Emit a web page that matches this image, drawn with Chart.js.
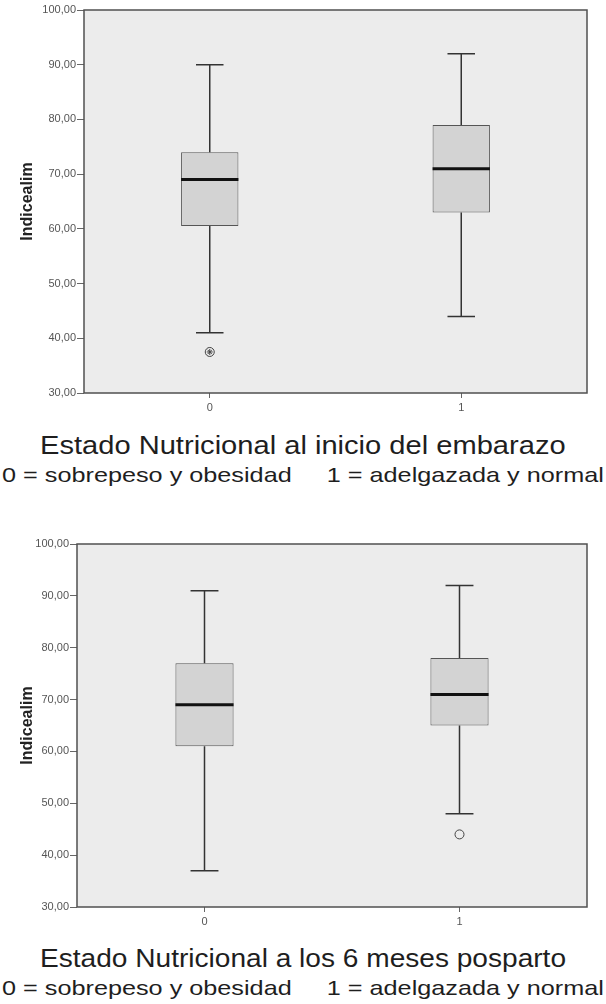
<!DOCTYPE html>
<html>
<head>
<meta charset="utf-8">
<script src="https://cdn.jsdelivr.net/npm/chart.js@4.4.0/dist/chart.umd.min.js"></script>
<style>
  body { margin: 0; background: #fff; width: 606px; height: 1004px; position: relative; overflow: hidden; font-family: "Liberation Sans", Arial, sans-serif; }
  canvas { position: absolute; left: 0; }
  .txt { position: absolute; white-space: pre; color: #1e1e1e; transform-origin: 0 50%; }
</style>
</head>
<body>
<canvas id="grafico1" width="606" height="420" style="top:0px"></canvas>
<canvas id="grafico2" width="606" height="420" style="top:520px"></canvas>

<div class="txt" data-left="40" data-width="526" style="top:430px;font-size:26px;line-height:30px">Estado Nutricional al inicio del embarazo</div>
<div class="txt" data-left="2" data-width="602" style="top:462px;font-size:21px;line-height:25px">0 = sobrepeso y obesidad     1 = adelgazada y normal</div>
<div class="txt" data-left="40" data-width="526" style="top:943px;font-size:26px;line-height:30px">Estado Nutricional a los 6 meses posparto</div>
<div class="txt" data-left="2" data-width="602" style="top:975px;font-size:21px;line-height:25px">0 = sobrepeso y obesidad     1 = adelgazada y normal</div>

<script>
const categorias = ['0', '1'];
const yTickLabels = ['30,00', '40,00', '50,00', '60,00', '70,00', '80,00', '90,00', '100,00'];

// inicio del embarazo
const inicioMin = [41, 44];
const inicioQ1 = [60.5, 63];
const inicioMediana = [69, 71];
const inicioQ3 = [74, 79];
const inicioMax = [90, 92];
const inicioAtipicos = [37.5, null];
const inicioExtremos = [37.5, null];

// 6 meses posparto
const posMin = [37, 48];
const posQ1 = [61, 65];
const posMediana = [69, 71];
const posQ3 = [77, 78];
const posMax = [91, 92];
const posAtipicos = [null, 44];
const posExtremos = [null, null];

const cajas = {
  id: 'cajas',
  beforeDraw(chart) {
    const a = chart.chartArea;
    const ctx = chart.ctx;
    ctx.save();
    ctx.fillStyle = '#ececec';
    ctx.fillRect(a.left, a.top, a.right - a.left, a.bottom - a.top);
    ctx.restore();
  },
  afterDatasetsDraw(chart, args, opts) {
    const ctx = chart.ctx;
    const y = chart.scales.y;
    const meta = chart.getDatasetMeta(0);
    ctx.save();
    meta.data.forEach(function(bar, i) {
      const x = bar.x;
      const w = bar.width;
      const yMax = y.getPixelForValue(opts.max[i]);
      const yMin = y.getPixelForValue(opts.min[i]);
      const yQ1 = y.getPixelForValue(opts.q1[i]);
      const yQ3 = y.getPixelForValue(opts.q3[i]);
      const yMed = y.getPixelForValue(opts.med[i]);
      ctx.strokeStyle = '#333';
      ctx.lineWidth = 1.5;
      ctx.beginPath();
      ctx.moveTo(x, yQ3); ctx.lineTo(x, yMax);
      ctx.moveTo(x - w * 0.24, yMax); ctx.lineTo(x + w * 0.24, yMax);
      ctx.moveTo(x, yQ1); ctx.lineTo(x, yMin);
      ctx.moveTo(x - w * 0.24, yMin); ctx.lineTo(x + w * 0.24, yMin);
      ctx.stroke();
      ctx.strokeStyle = '#111';
      ctx.lineWidth = 3;
      ctx.beginPath();
      ctx.moveTo(x - w / 2, yMed); ctx.lineTo(x + w / 2, yMed);
      ctx.stroke();
    });
    ctx.restore();
  },
  afterDraw(chart) {
    const a = chart.chartArea;
    const ctx = chart.ctx;
    ctx.save();
    ctx.strokeStyle = '#505050';
    ctx.lineWidth = 1.5;
    ctx.strokeRect(a.left, a.top, a.right - a.left, a.bottom - a.top);
    ctx.restore();
  }
};

function crearGrafico(id, min, q1, med, q3, max, atipicos, extremos, anchoY, altoX, padTop) {
  return new Chart(document.getElementById(id), {
    type: 'bar',
    data: {
      labels: categorias,
      datasets: [{
        data: categorias.map(function(c, i) { return [q1[i], q3[i]]; }),
        backgroundColor: '#d3d3d3',
        borderColor: '#555',
        borderWidth: 1,
        borderSkipped: false,
        barPercentage: 0.228,
        categoryPercentage: 1
      }, {
        type: 'line',
        data: atipicos,
        showLine: false,
        pointStyle: 'circle',
        pointRadius: 4.5,
        borderColor: '#444',
        backgroundColor: 'rgba(0,0,0,0)',
        pointBorderWidth: 1
      }, {
        type: 'line',
        data: extremos,
        showLine: false,
        pointStyle: 'star',
        pointRadius: 3,
        borderColor: '#444',
        backgroundColor: 'rgba(0,0,0,0)',
        pointBorderWidth: 1
      }]
    },
    options: {
      responsive: false,
      animation: false,
      layout: { padding: { top: padTop, right: 19, left: 0, bottom: 0 } },
      plugins: {
        legend: { display: false },
        tooltip: { enabled: false },
        cajas: { min: min, q1: q1, med: med, q3: q3, max: max }
      },
      scales: {
        x: {
          grid: { display: true, offset: false, drawOnChartArea: false, drawTicks: true, tickLength: 5, color: '#666' },
          border: { display: false },
          ticks: { color: '#555', font: { size: 11, family: 'Liberation Sans' }, padding: 3 },
          afterFit: function(s) { s.height = altoX; }
        },
        y: {
          min: 30,
          max: 100,
          grid: { display: true, drawOnChartArea: false, drawTicks: true, tickLength: 7, color: '#666' },
          border: { display: false },
          ticks: {
            stepSize: 10,
            color: '#555',
            padding: 1,
            font: { size: 11, family: 'Liberation Sans' },
            callback: function(v, i) { return yTickLabels[i]; }
          },
          title: {
            display: true,
            text: 'Indicealim',
            color: '#222',
            font: { size: 16, weight: 'bold', family: 'Liberation Sans' },
            padding: { top: 18, bottom: 0 }
          },
          afterFit: function(s) { s.width = anchoY; }
        }
      }
    },
    plugins: [cajas]
  });
}

crearGrafico('grafico1', inicioMin, inicioQ1, inicioMediana, inicioQ3, inicioMax, inicioAtipicos, inicioExtremos, 84, 27, 10);
crearGrafico('grafico2', posMin, posQ1, posMediana, posQ3, posMax, posAtipicos, posExtremos, 77, 33, 24);

document.querySelectorAll('.txt').forEach(function(el) {
  const ancho = el.offsetWidth;
  el.style.left = el.dataset.left + 'px';
  el.style.transform = 'scaleX(' + (el.dataset.width / ancho) + ')';
});
</script>
</body>
</html>
